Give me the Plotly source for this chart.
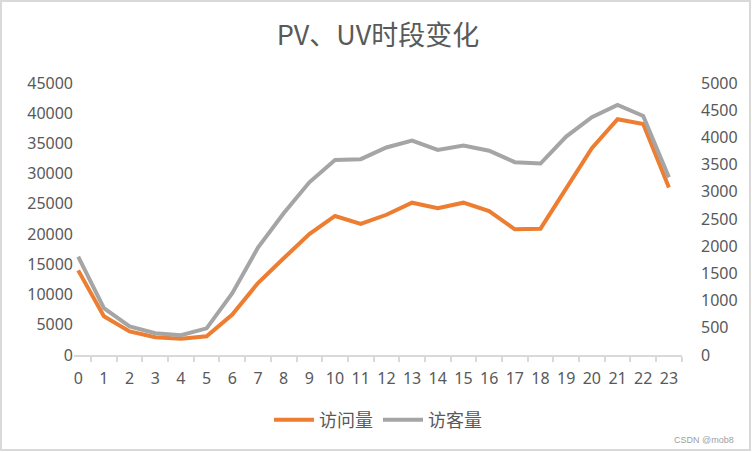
import plotly.graph_objects as go

hours = list(range(24))
pv = [14000, 6400, 3900, 2950, 2700, 3100, 6700, 11900, 16000, 20000, 23000, 21700,
      23200, 25200, 24300, 25200, 23800, 20800, 20900, 27600, 34200, 39000, 38200, 27700]
uv = [1810, 860, 525, 400, 365, 490, 1135, 1975, 2605, 3175, 3585, 3600,
      3815, 3940, 3770, 3850, 3755, 3545, 3520, 4015, 4370, 4595, 4395, 3265]
series_names = ["访问量", "访客量"]
title_text = "PV、UV时段变化"

FONT = "Noto Sans CJK SC"
NUMFONT = "Noto Sans"
TXT = "#595959"

L, R, T, B = 74, 70, 83, 97
PW, PH = 752 - L - R, 452 - T - B

fig = go.Figure()
fig.add_trace(go.Scatter(x=hours, y=pv, name=series_names[0], mode="lines",
                         line=dict(color="#ED7D31", width=4), yaxis="y"))
fig.add_trace(go.Scatter(x=hours, y=uv, name=series_names[1], mode="lines",
                         line=dict(color="#A5A5A5", width=4), yaxis="y2"))

fig.update_layout(
    width=752, height=452,
    margin=dict(l=L, r=R, t=T, b=B, autoexpand=False),
    paper_bgcolor="white", plot_bgcolor="white",
    font=dict(family=FONT, color=TXT, size=16),
    title=dict(text=title_text, x=0.5, xref="paper", xanchor="center",
               y=1 - 36 / 452, yref="container", yanchor="middle",
               font=dict(size=27, color=TXT, family=FONT)),
    showlegend=True,
    legend=dict(orientation="h", x=0.5, xanchor="center", y=-(420 - 355) / PH, yanchor="middle",
                font=dict(size=18, color=TXT, family=FONT), itemwidth=40),
    xaxis=dict(range=[-0.164, 23.51], tickmode="linear", tick0=0, dtick=1, automargin=False,
               showline=True, linecolor="#D9D9D9", linewidth=1.5,
               showgrid=False, zeroline=False, ticks="",
               ticklabelstandoff=8,
               minor=dict(tickmode="linear", tick0=0.5, dtick=1, ticks="outside",
                          ticklen=5, tickcolor="#D9D9D9", tickwidth=1.5, showgrid=False),
               tickfont=dict(size=16, color=TXT, family=NUMFONT)),
    yaxis=dict(range=[0, 45000], tickmode="linear", tick0=0, dtick=5000, tickformat="d",
               automargin=False,
               showgrid=False, zeroline=False, showline=False, ticks="",
               tickfont=dict(size=16, color=TXT, family=NUMFONT)),
    yaxis2=dict(range=[0, 5000], tickmode="linear", tick0=0, dtick=500, tickformat="d",
                automargin=False,
                overlaying="y", side="right", showgrid=False, zeroline=False,
                showline=False, ticks="", ticklabelstandoff=18,
                tickfont=dict(size=16, color=TXT, family=NUMFONT)),
    shapes=[dict(type="rect", xref="paper", yref="paper", layer="below",
                 x0=(1 - L) / PW, x1=(750 - L) / PW, y0=-(450 - (T + PH)) / PH, y1=1 + (T - 1) / PH,
                 line=dict(color="#D9D9D9", width=2))],
    annotations=[dict(text="CSDN @mob8", xref="paper", yref="paper",
                      x=(672 - L) / PW, y=-(440 - (T + PH)) / PH,
                      xanchor="left", yanchor="middle", showarrow=False,
                      font=dict(size=9, color="#A0A0A0", family="Liberation Sans"))],
)

fig.write_html("out.html", config={"displayModeBar": False},
               post_script="document.body.style.margin='0';document.body.style.overflow='hidden';")
